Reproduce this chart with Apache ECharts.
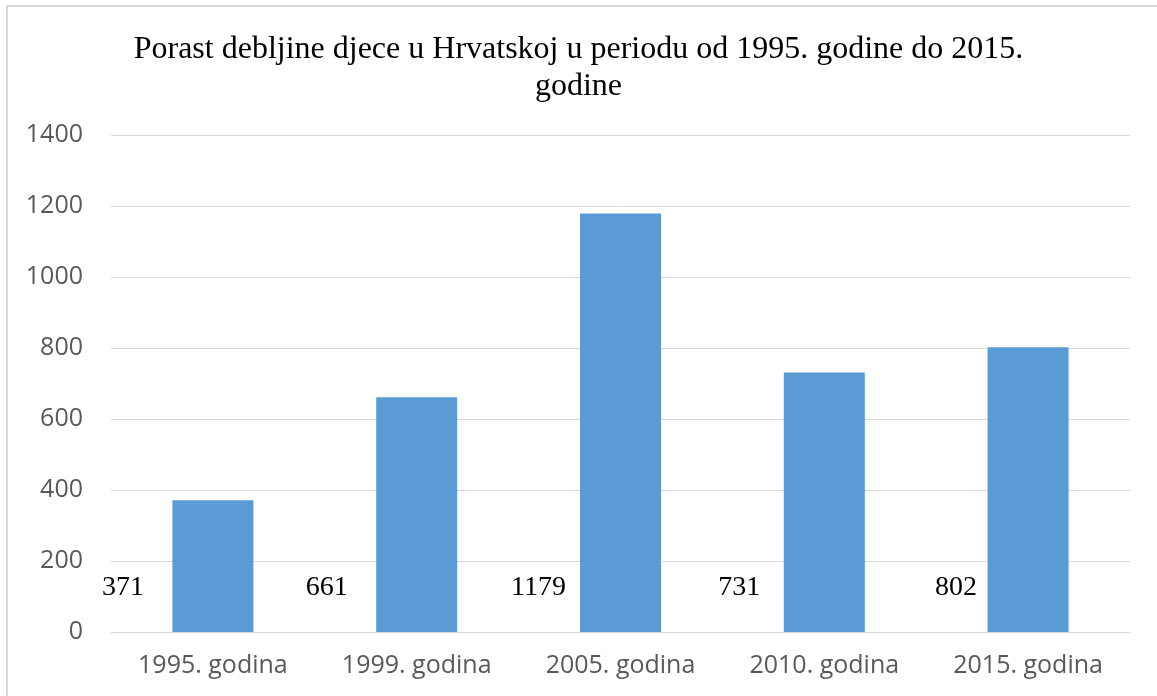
<!DOCTYPE html>
<html>
<head>
<meta charset="utf-8">
<script src="https://cdn.jsdelivr.net/npm/echarts@6/dist/echarts.min.js"></script>
<style>
  html, body { margin: 0; padding: 0; background: #fff; }
  #paint { width: 1157px; height: 696px; }
</style>
</head>
<body>
<div id="paint"></div>
<script>
var categories = ['1995. godina', '1999. godina', '2005. godina', '2010. godina', '2015. godina'];
var values = [371, 661, 1179, 731, 802];
// label shift left of each bar (labels were placed by hand in the original)
var labelShift = [-90, -90, -82, -85, -72];
var yTicks = [0, 200, 400, 600, 800, 1000, 1200, 1400];

(function(){
    let chart = echarts.init(document.getElementById("paint"));

    var data = [];
    for (let i in values) {
        data.push({
            value: values[i],
            label: { offset: [labelShift[i], -30] }
        });
    }

    option = {
        animation: false,
        title: {
            text: 'Porast debljine djece u Hrvatskoj u periodu od 1995. godine do 2015.\ngodine',
            left: 'center',
            top: 26,
            textStyle: {
                fontFamily: 'Liberation Serif',
                fontWeight: 'normal',
                fontSize: 32,
                lineHeight: 37,
                color: '#000'
            }
        },
        graphic: [{
            type: 'rect',
            shape: { x: 7, y: 6, width: 1300, height: 800 },
            style: { fill: null, stroke: '#d9d9d9', lineWidth: 2 },
            silent: true
        }],
        grid: { left: 111, right: 27, top: 135, bottom: 64 },
        xAxis: {
            type: 'category',
            data: categories,
            axisTick: { show: false },
            axisLine: { lineStyle: { color: '#d9d9d9', width: 1 } },
            axisLabel: {
                color: '#595959',
                fontFamily: 'Open Sans',
                fontSize: 25,
                margin: 21
            }
        },
        yAxis: {
            type: 'value',
            min: yTicks[0],
            max: yTicks[yTicks.length - 1],
            interval: 200,
            axisLine: { show: false },
            axisTick: { show: false },
            splitLine: { lineStyle: { color: '#d9d9d9', width: 1 } },
            axisLabel: {
                color: '#595959',
                fontFamily: 'Open Sans',
                fontSize: 25,
                margin: 28,
                formatter: function (v) { return String(v); }
            }
        },
        series: [{
            type: 'bar',
            data: data,
            barWidth: 81,
            itemStyle: { color: '#5b9bd5' },
            label: {
                show: true,
                position: 'insideBottom',
                distance: 0,
                color: '#000',
                fontFamily: 'Liberation Serif',
                fontSize: 28
            }
        }]
    };

    chart.setOption(option);
})();
</script>
</body>
</html>
